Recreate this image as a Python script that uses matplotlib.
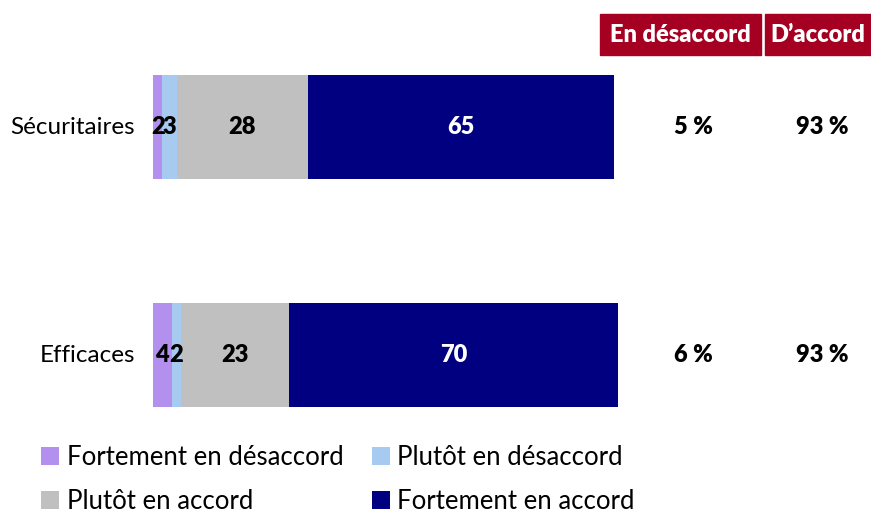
import matplotlib
matplotlib.use("Agg")
import matplotlib.pyplot as plt
from matplotlib.patches import Rectangle
from matplotlib.transforms import blended_transform_factory

plt.rcParams['font.family'] = ['Lato', 'DejaVu Sans']

# data
categories = ['Sécuritaires', 'Efficaces']
series_names = ['Fortement en désaccord', 'Plutôt en désaccord',
                'Plutôt en accord', 'Fortement en accord']
values = {
    'Fortement en désaccord': [2, 4],
    'Plutôt en désaccord': [3, 2],
    'Plutôt en accord': [28, 23],
    'Fortement en accord': [65, 70],
}
disagree = ['5 %', '6 %']
agree = ['93 %', '93 %']
headers = ['En désaccord', 'D\u2019accord']

colors = ['#B38FEE', '#A6CAF0', '#C0C0C0', '#000080']
text_colors = ['black', 'black', 'black', 'white']

W, H = 871, 516
PX = 4.7  # pixels per percentage point
BOLD = 'heavy'
fig = plt.figure(figsize=(W / 100, H / 100), dpi=100)
ax = fig.add_axes([153 / W, 0, (W - 153) / W, 1])

ypos = list(range(len(categories)))
left = [0] * len(categories)
handles = []
for name, col, tcol in zip(series_names, colors, text_colors):
    vals = values[name]
    b = ax.barh(ypos, vals, left=left, height=0.46, color=col, label=name)
    handles.append(b)
    for y, v, l in zip(ypos, vals, left):
        ax.text(l + v / 2, y, str(v), ha='center', va='center',
                fontsize=17, fontweight=BOLD, color=tcol)
    left = [l + v for l, v in zip(left, vals)]

ax.set_xlim(0, (W - 153) / PX)
ax.set_ylim(1 + (H - 355) / 228, -127 / 228)
ax.axis('off')

# category labels
for y, c in zip(ypos, categories):
    ax.text(-18 / PX, y, c, ha='right', va='center', fontsize=17.5)

# summary columns
tr = blended_transform_factory(fig.transFigure, ax.transData)
for y, d, a in zip(ypos, disagree, agree):
    ax.text(693 / W, y, d, transform=tr, ha='center', va='center',
            fontsize=17, fontweight=BOLD)
    ax.text(822 / W, y, a, transform=tr, ha='center', va='center',
            fontsize=17, fontweight=BOLD)

# header boxes
boxes = [(600, 761), (765, 871)]
for (x0, x1), h in zip(boxes, headers):
    fig.patches.append(Rectangle((x0 / W, 1 - 55 / H), (x1 - x0) / W, 41 / H,
                                 transform=fig.transFigure, color='#A50021'))
    fig.text((x0 + x1) / 2 / W, 1 - 35 / H, h, ha='center', va='center',
             fontsize=17, fontweight=BOLD, color='white')

# legend
order = [0, 2, 1, 3]
leg = fig.legend([handles[i] for i in order], [series_names[i] for i in order],
                 ncol=2, loc='upper left', bbox_to_anchor=(41 / W, 1 - 445 / H),
                 frameon=False, fontsize=18.5, handlelength=0.7, handleheight=0.7,
                 handletextpad=0.3, columnspacing=1.1, labelspacing=0.75,
                 borderaxespad=0, borderpad=0)

fig.savefig('out.png', dpi=100)
